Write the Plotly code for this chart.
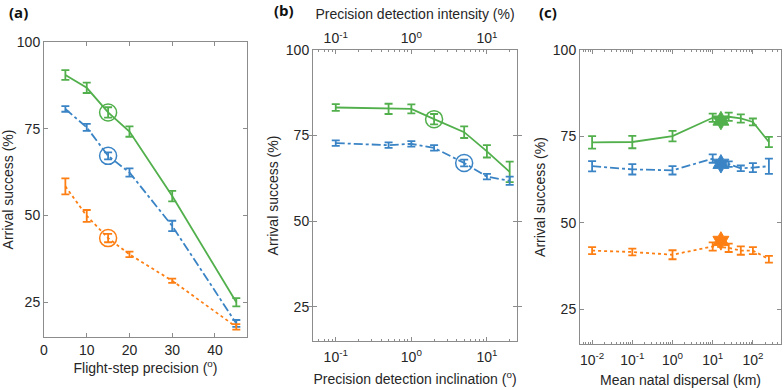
import math
import plotly.graph_objects as go

# ---------------- data ----------------
# (a) Flight-step precision
a_x = [5, 10, 15, 20, 30, 45]
a_green = [90.5, 86.8, 79.7, 74.2, 55.6, 25.0]
a_green_err = [1.4, 1.5, 1.5, 1.5, 1.5, 1.2]
a_blue = [80.7, 75.4, 67.2, 62.4, 47.0, 18.9]
a_blue_err = [0.8, 1.0, 1.0, 1.2, 1.5, 1.0]
a_orange = [58.4, 49.9, 43.5, 38.8, 31.2, 17.9]
a_orange_err = [2.3, 1.7, 1.2, 0.8, 0.6, 0.8]
a_highlight_x = 15

# (b) Precision detection inclination / intensity
b_x = [0.1, 0.5, 1, 2, 5, 10, 20]
b_green = [83.2, 82.8, 82.8, 79.8, 76.0, 70.4, 64.4]
b_green_err = [1.0, 1.5, 1.3, 1.5, 1.7, 1.8, 3.0]
b_blue = [72.8, 72.2, 72.6, 71.4, 67.0, 63.0, 61.8]
b_blue_err = [0.8, 0.8, 0.8, 0.8, 1.0, 0.8, 1.2]
b_green_highlight_x = 2
b_blue_highlight_x = 5

# (c) Mean natal dispersal
c_x = [0.01, 0.1, 1, 10, 25, 50, 100, 250]
c_green = [73.3, 73.4, 75.1, 80.4, 80.7, 80.2, 79.2, 73.4]
c_green_err = [1.8, 1.8, 1.5, 1.2, 1.2, 1.2, 1.0, 1.5]
c_blue = [66.4, 65.5, 65.2, 68.6, 67.0, 65.8, 66.0, 66.4]
c_blue_err = [1.5, 1.5, 1.2, 1.2, 0.8, 0.8, 1.3, 2.2]
c_orange = [42.0, 41.6, 40.8, 43.2, 42.8, 42.0, 42.0, 39.5]
c_orange_err = [1.0, 1.0, 1.3, 1.2, 1.2, 1.2, 1.0, 1.0]
c_star_x = 16
c_star_green = 79.6
c_star_blue = 67.1
c_star_orange = 44.8

y_ticks = [25, 50, 75, 100]
a_x_ticks = [0, 10, 20, 30, 40]
b_x_ticks = [0.1, 1, 10]
b_x_ticktext = ["10<sup>-1</sup>", "10<sup>0</sup>", "10<sup>1</sup>"]
c_x_ticks = [0.01, 0.1, 1, 10, 100]
c_x_ticktext = ["10<sup>-2</sup>", "10<sup>-1</sup>", "10<sup>0</sup>",
                "10<sup>1</sup>", "10<sup>2</sup>"]

# ---------------- style ----------------
GREEN = "#52b04c"
BLUE = "#3a84c5"
ORANGE = "#fd7f13"
AXC = "#8c8c8c"
TXT = "#262626"
FONT = "Liberation Sans"

fig = go.Figure()


def series(x, y, err, color, dash, xa, ya):
    fig.add_trace(go.Scatter(
        x=x, y=y, mode="lines", xaxis=xa, yaxis=ya, showlegend=False,
        line=dict(color=color, width=1.8, dash=dash),
        error_y=dict(type="data", array=err, visible=True, color=color,
                     thickness=1.8, width=4)))


def circle(xs, ys, hx, color, xa, ya):
    yv = ys[xs.index(hx)]
    fig.add_trace(go.Scatter(
        x=[hx], y=[yv], mode="markers", xaxis=xa, yaxis=ya, showlegend=False,
        marker=dict(symbol="circle-open", size=17, color=color,
                    line=dict(color=color, width=1.5))))


def star(x, y, color, xa, ya):
    fig.add_trace(go.Scatter(
        x=[x], y=[y], mode="markers", xaxis=xa, yaxis=ya, showlegend=False,
        marker=dict(symbol="hexagram", size=14, color=color,
                    line=dict(color=color, width=1))))


# (a)
series(a_x, a_green, a_green_err, GREEN, "solid", "x", "y")
series(a_x, a_blue, a_blue_err, BLUE, "dashdot", "x", "y")
series(a_x, a_orange, a_orange_err, ORANGE, "dot", "x", "y")
circle(a_x, a_green, a_highlight_x, GREEN, "x", "y")
circle(a_x, a_blue, a_highlight_x, BLUE, "x", "y")
circle(a_x, a_orange, a_highlight_x, ORANGE, "x", "y")

# (b)
series(b_x, b_green, b_green_err, GREEN, "solid", "x2", "y2")
series(b_x, b_blue, b_blue_err, BLUE, "dashdot", "x2", "y2")
circle(b_x, b_green, b_green_highlight_x, GREEN, "x2", "y2")
circle(b_x, b_blue, b_blue_highlight_x, BLUE, "x2", "y2")
# carrier for top axis of (b)
fig.add_trace(go.Scatter(x=[b_x[0]], y=[b_green[0]], mode="markers",
                         xaxis="x4", yaxis="y2", showlegend=False,
                         marker=dict(opacity=0), hoverinfo="skip"))

# (c)
series(c_x, c_green, c_green_err, GREEN, "solid", "x3", "y3")
series(c_x, c_blue, c_blue_err, BLUE, "dashdot", "x3", "y3")
series(c_x, c_orange, c_orange_err, ORANGE, "dot", "x3", "y3")
star(c_star_x, c_star_green, GREEN, "x3", "y3")
star(c_star_x, c_star_blue, BLUE, "x3", "y3")
star(c_star_x, c_star_orange, ORANGE, "x3", "y3")

W, H = 784, 390


def px_x(a, b):
    return [a / W, b / W]


def px_y(top, bottom):
    return [(H - bottom) / H, (H - top) / H]


base = dict(showline=True, linecolor=AXC, linewidth=1, mirror="allticks",
            ticks="inside", ticklen=4, tickcolor=AXC, showgrid=False,
            zeroline=False, automargin=False,
            tickfont=dict(family=FONT, size=14, color=TXT),
            title_font=dict(family=FONT, size=14, color=TXT))
minor = dict(ticks="inside", ticklen=2, tickcolor=AXC, showgrid=False,
             dtick="D1", tickmode="linear")

ytitle = "Arrival success (%)"

fig.update_layout(
    width=W, height=H, margin=dict(l=0, r=0, t=0, b=0),
    paper_bgcolor="white", plot_bgcolor="white",
    xaxis=dict(base, domain=px_x(44, 247), range=[0, 47.5], tickvals=a_x_ticks,
               anchor="y", title=dict(text="Flight-step precision (<sup>o</sup>)", standoff=6)),
    yaxis=dict(base, domain=px_y(42, 337), range=[15, 100], tickvals=y_ticks,
               anchor="x", title=dict(text=ytitle, standoff=3)),
    xaxis2=dict(base, type="log", tickvals=b_x_ticks, ticktext=b_x_ticktext,
                minor=minor, domain=px_x(313, 517), ticklabelstandoff=3,
                range=[math.log10(0.05), math.log10(25)], anchor="y2",
                title=dict(text="Precision detection inclination (<sup>o</sup>)", standoff=10)),
    yaxis2=dict(base, domain=px_y(50, 341), range=[15, 100], tickvals=y_ticks,
                anchor="x2", title=dict(text=ytitle, standoff=3)),
    xaxis4=dict(base, type="log", tickvals=b_x_ticks, ticktext=b_x_ticktext,
                minor=minor, range=[math.log10(0.05), math.log10(25)],
                overlaying="x2", side="top", anchor="y2",
                title=dict(text="Precision detection intensity (%)", standoff=5)),
    xaxis3=dict(base, type="log", tickvals=c_x_ticks, ticktext=c_x_ticktext,
                minor=minor, domain=px_x(580, 781), ticklabelstandoff=3,
                range=[math.log10(0.005), math.log10(500)], anchor="y3",
                title=dict(text="Mean natal dispersal (km)", standoff=8)),
    yaxis3=dict(base, domain=px_y(50, 344), range=[15, 100], tickvals=y_ticks,
                anchor="x3", title=dict(text=ytitle, standoff=3)),
)

labels = [("(a)", 7, 12), ("(b)", 272, 10), ("(c)", 537, 12)]
for t, x, y in labels:
    fig.add_annotation(text="<b>%s</b>" % t, xref="paper", yref="paper",
                       x=x / W, y=(H - y) / H, xanchor="left", yanchor="middle",
                       showarrow=False, font=dict(family="Open Sans", size=15, color="#111"))

fig.write_html("out.html", config={"displayModeBar": False},
               post_script="document.body.style.margin='0';document.body.style.overflow='hidden';")
